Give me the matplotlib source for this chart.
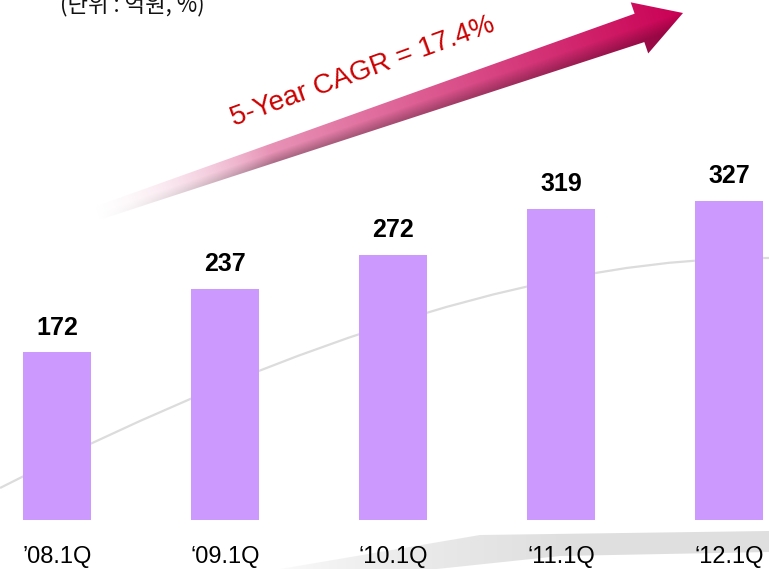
import numpy as np
import matplotlib
matplotlib.use("Agg")
import matplotlib.pyplot as plt
from matplotlib.path import Path
from matplotlib.patches import PathPatch, Polygon

# ---- data ----
categories = ["\u201908.1Q", "\u201809.1Q", "\u201810.1Q", "\u201811.1Q", "\u201812.1Q"]
values = [172, 237, 272, 319, 327]
unit_text = "(단위 : 억원, %)"
cagr_text = "5-Year CAGR = 17.4%"

W, H = 769, 569
fig = plt.figure(figsize=(W / 100, H / 100), dpi=100)
fig.patch.set_facecolor("white")

# ---- decoration layer in pixel coordinates ----
deco = fig.add_axes([0, 0, 1, 1], zorder=0)
deco.set_xlim(0, W)
deco.set_ylim(H, 0)
deco.axis("off")

# light gray arc
arc = Path([(0, 488), (460, 255), (769, 258)], [Path.MOVETO, Path.CURVE3, Path.CURVE3])
deco.add_patch(PathPatch(arc, fill=False, edgecolor="#dcdcdc", lw=1.6))

# gray swoosh at bottom right (image limited to its own box)
sx0, sx1, sy0, sy1 = 260, W, 525, H
syy, sxx = np.mgrid[sy0:sy1, sx0:sx1] + 0.5
sw_top = Path([(280, 569), (480, 535), (769, 531)], [Path.MOVETO, Path.CURVE3, Path.CURVE3])
sw_bot = Path([(769, 552), (560, 556), (380, 575)], [Path.MOVETO, Path.CURVE3, Path.CURVE3])
verts = np.vstack([sw_top.interpolated(40).vertices, sw_bot.interpolated(40).vertices])
sw_poly = Polygon(verts, closed=True, facecolor="none", edgecolor="none")
deco.add_patch(sw_poly)
a = np.clip((sxx - 270) / 300, 0, 1) ** 0.6
rgba = np.zeros(sxx.shape + (4,))
rgba[..., :3] = 0.875
rgba[..., 3] = a
im = deco.imshow(rgba, extent=(sx0, sx1, sy1, sy0), interpolation="bilinear")
im.set_clip_path(sw_poly)

# gradient arrow (tapered shaft)
T = np.array([95.0, 214.0])
Hd = np.array([683.0, 13.0])
u = (Hd - T) / np.linalg.norm(Hd - T)
n = np.array([-u[1], u[0]])
if n[1] < 0:
    n = -n
L = np.linalg.norm(Hd - T)
B = Hd - 46 * u
w0, w1, hw = 7, 15, 27
pts = [T - w0 * n, B - w1 * n, B - hw * n, Hd, B + hw * n, B + w1 * n, T + w0 * n]
arrow = Polygon(pts, closed=True, facecolor="none", edgecolor="none")
deco.add_patch(arrow)
ax0, ax1, ay0, ay1 = 80, 700, 0, 235
ayy, axx = np.mgrid[ay0:ay1, ax0:ax1] + 0.5
rel_x = axx - T[0]
rel_y = ayy - T[1]
s = np.clip((rel_x * u[0] + rel_y * u[1]) / L, 0, 1)
halfw = w0 + (w1 - w0) * s
p = (rel_x * n[0] + rel_y * n[1]) / halfw
c0 = np.array([0.96, 0.82, 0.88])
c1 = np.array([0.79, 0.0, 0.33])
col = c0[None, None, :] * (1 - s[..., None]) + c1[None, None, :] * s[..., None]
shade = 1 - 0.25 * np.clip(p + 0.1, 0, 1)[..., None]
col = col * shade
arr_rgba = np.zeros(axx.shape + (4,))
arr_rgba[..., :3] = np.clip(col, 0, 1)
arr_rgba[..., 3] = np.clip(s / 0.3, 0, 1) ** 1.3
im2 = deco.imshow(arr_rgba, extent=(ax0, ax1, ay1, ay0), interpolation="bilinear")
im2.set_clip_path(arrow)
deco.set_xlim(0, W)
deco.set_ylim(H, 0)

deco.text(234, 126, cagr_text, rotation=20, rotation_mode="anchor",
          ha="left", va="baseline", color="#cc0000", fontsize=20,
          family="Liberation Sans")

deco.text(60, 11, unit_text, ha="left", va="baseline", fontsize=16,
          family=["Noto Sans CJK KR", "DejaVu Sans"], color="#111111")

# ---- bar chart layer ----
base_px = 520
px_per_unit = 0.976
ax = fig.add_axes([0, (H - base_px) / H, 1, base_px / H], zorder=1)
ax.patch.set_alpha(0)
x = np.arange(len(values))
ax.bar(x, values, width=68 / 168, color="#cc99ff", edgecolor="none")
ax.set_xlim(-57 / 168, (W - 57) / 168)
ax.set_ylim(0, base_px / px_per_unit)
for xi, v in zip(x, values):
    ax.annotate(str(v), (xi, v), xytext=(0, 12.5), textcoords="offset points",
                ha="center", va="baseline", fontsize=18, fontweight="bold",
                family="Liberation Sans", color="black")
ax.set_xticks(x)
ax.set_xticklabels(categories, fontsize=17, family="Liberation Sans", color="black")
ax.tick_params(axis="x", length=0, pad=19)
ax.set_yticks([])
for sp in ax.spines.values():
    sp.set_visible(False)

fig.savefig("out.png", dpi=100, facecolor="white")
